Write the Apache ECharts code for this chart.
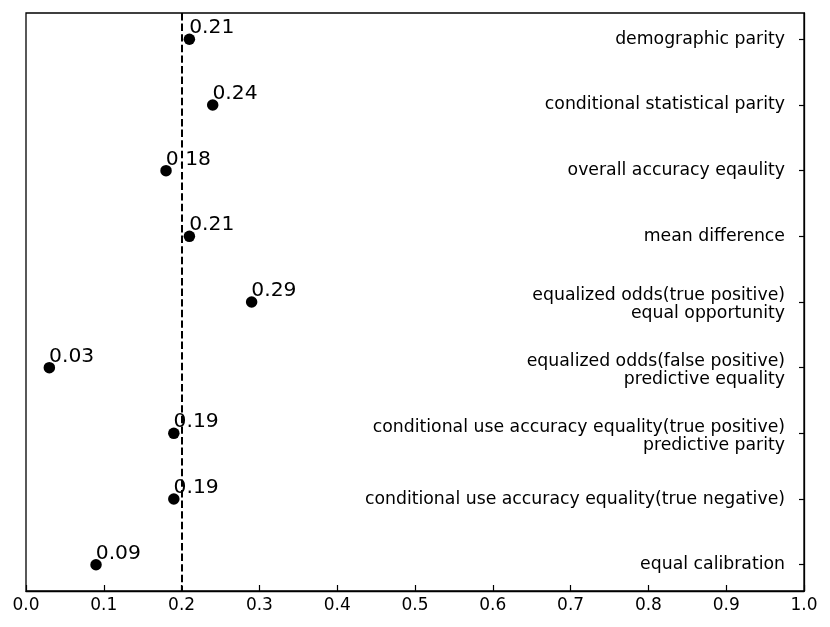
<!DOCTYPE html>
<html>
<head>
<meta charset="utf-8">
<script src="https://cdn.jsdelivr.net/npm/echarts@6/dist/echarts.min.js"></script>
<style>
html,body{margin:0;padding:0;background:#fff;}
#main{width:830px;height:627px;}
</style>
</head>
<body>
<div id="main"></div>
<script>
// categories top to bottom
var metrics = [
	'demographic parity',
	'conditional statistical parity',
	'overall accuracy eqaulity',
	'mean difference',
	'equalized odds(true positive)\nequal opportunity',
	'equalized odds(false positive)\npredictive equality',
	'conditional use accuracy equality(true positive)\npredictive parity',
	'conditional use accuracy equality(true negative)',
	'equal calibration'
];
var scores = [0.21, 0.24, 0.18, 0.21, 0.29, 0.03, 0.19, 0.19, 0.09];
var threshold = 0.2;
var rowIdx = metrics.map(function(m, i){ return i; });

var pts = scores.map(function(v, i){ return [v, i]; });

var myChart = echarts.init(document.getElementById('main'));
var font = 'DejaVu Sans';

var option = {
	animation: false,
	textStyle: {fontFamily: font},
	grid: {
		left: 26, right: 26, top: 13, bottom: 36,
		show: true, borderColor: '#000', borderWidth: 1.3, backgroundColor: 'transparent'
	},
	xAxis: {
		type: 'value',
		min: 0, max: 1, interval: 0.1,
		splitLine: {show: false},
		axisLine: {show: true, onZero: false, lineStyle: {color: '#000', width: 1.3}},
		axisTick: {show: true, inside: true, length: 6, lineStyle: {color: '#000', width: 1.2}},
		axisLabel: {
			color: '#000', fontSize: 17, fontFamily: font, margin: 6,
			formatter: function(v){ return v.toFixed(1); }
		}
	},
	yAxis: {
		type: 'value',
		position: 'right',
		inverse: true,
		min: -0.4, max: 8.4,
		splitLine: {show: false},
		axisLine: {show: true, onZero: false, lineStyle: {color: '#000', width: 1.3}},
		axisTick: {show: true, inside: true, length: 5, customValues: rowIdx, lineStyle: {color: '#000', width: 1.2}},
		axisLabel: {
			inside: true, margin: 19, color: '#000', fontSize: 17.3, fontFamily: font,
			customValues: rowIdx,
			formatter: function(v){
				var t = metrics[Math.round(v)];
				if (t.indexOf('\n') >= 0) return '{two|' + t + '}';
				return t;
			},
			rich: {
				two: {fontSize: 17.3, fontFamily: font, color: '#000', lineHeight: 18, align: 'right', padding: [6, 0, 0, 0]}
			}
		}
	},
	series: [
		{
			type: 'scatter',
			data: pts,
			symbolSize: 11.5,
			itemStyle: {color: '#000', opacity: 1},
			label: {
				show: true,
				position: [5.5, -5.5],
				align: 'left',
				verticalAlign: 'middle',
				color: '#000',
				opacity: 1,
				fontSize: 20.3,
				fontFamily: font,
				formatter: function(p){ return p.value[0].toFixed(2); }
			},
			markLine: {
				silent: true,
				symbol: 'none',
				label: {show: false},
				lineStyle: {color: '#000', type: [7.4, 3.2], width: 2, opacity: 1},
				data: [{xAxis: threshold}]
			},
			z: 3
		}
	]
};

myChart.setOption(option);
</script>
</body>
</html>
